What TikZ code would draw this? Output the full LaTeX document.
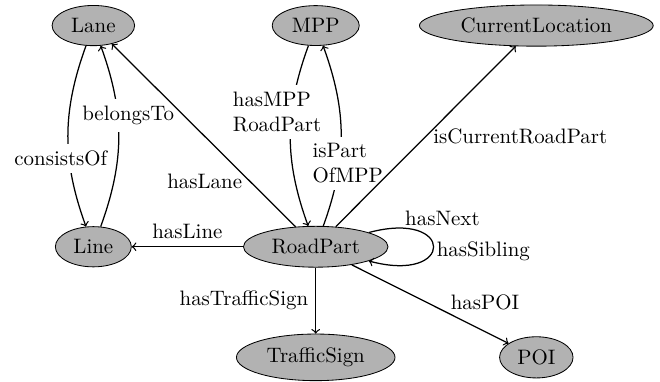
\documentclass[tikz,border=0pt]{standalone}
\usepackage{tikz}
\usepackage{amsmath}
\usetikzlibrary{positioning}
\usetikzlibrary{shapes.geometric}

\begin{document}
\begin{tikzpicture}
                [cls/.style = {ellipse, draw, fill=gray!60}, prop/.style={fill=white}, every edge/.style={draw, semithick}]
                \useasboundingbox (0,0) rectangle (11.10,-6.41);
                % Classes of the road model
                \node[cls] (lane) at (1.57,-0.43) {Lane};
                \node[cls] (mpp) at (5.31,-0.43) {MPP};
                \node[cls] (curloc) at (9.02,-0.43) {CurrentLocation};
                \node[cls] (line) at (1.57,-4.15) {Line};
                \node[cls] (roadpart) at (5.31,-4.15) {RoadPart};
                \node[cls] (sign) at (5.31,-6.01) {TrafficSign};
                \node[cls] (poi) at (9.02,-6.01) {POI};

                % Curved properties
                \path[->] (lane) edge[bend right=20] node[prop, pos=0.63, xshift=-4pt] {consistsOf} (line);
                \path[->] (line) edge[bend right=20] node[prop, pos=0.62, xshift=5pt] {belongsTo} (lane);
                \path[->] (mpp) edge[bend right=20] node[prop, align=left, pos=0.36, xshift=-7pt] {hasMPP\\RoadPart} (roadpart);
                \path[->] (roadpart) edge[bend right=20] node[prop, align=left, pos=0.34, xshift=4pt] {isPart\\OfMPP} (mpp);
                % Straight properties
                \path[->] (roadpart) edge node[pos=0.25, left] {hasLane} (lane);
                \path[->] (roadpart) edge node[pos=0.5, right] {isCurrentRoadPart} (curloc);
                \path[->] (roadpart) edge node[above] {hasLine} (line);
                \path[->] (roadpart) edge node[left] {hasTrafficSign} (sign);
                \path[->] (roadpart) edge node[pos=0.85, above, yshift=6.5pt] {hasPOI} (poi);
                % Loop
                \path[->] (roadpart) edge[out=15, in=-15, distance=1.5cm] node[pos=0.15, above right, xshift=-2pt, yshift=-2.5pt] {hasNext} node[right, xshift=-2pt, yshift=-2pt] {hasSibling} (roadpart);
\end{tikzpicture}
\end{document}
